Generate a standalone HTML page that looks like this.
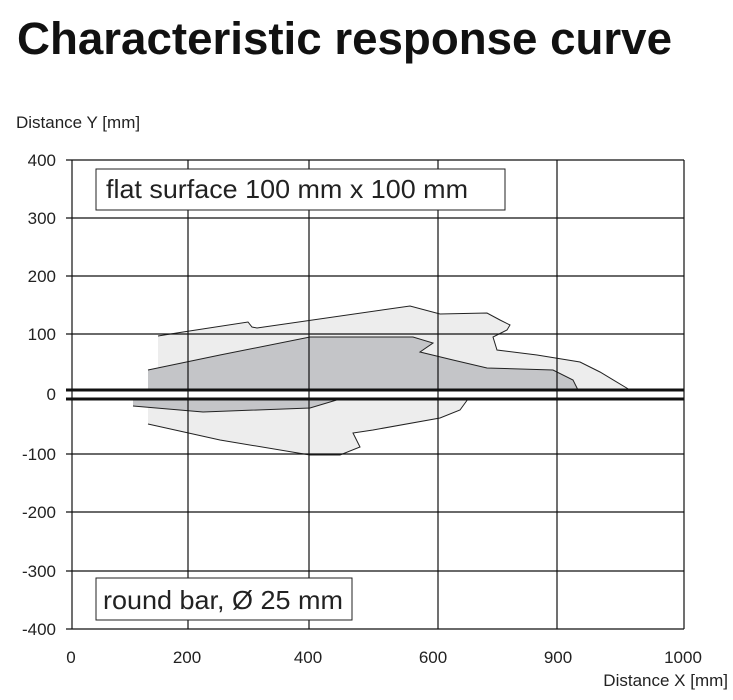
<!DOCTYPE html>
<html><head><style>
body{margin:0;background:#fff;}
</style></head><body>
<svg width="733" height="695" xmlns="http://www.w3.org/2000/svg" font-family="Liberation Sans, Arial, sans-serif">
<rect width="733" height="695" fill="#fff"/>
<text x="17" y="54" font-size="45" font-weight="bold" fill="#111" textLength="655" lengthAdjust="spacingAndGlyphs">Characteristic response curve</text>
<text x="16" y="128" font-size="17" fill="#222">Distance Y [mm]</text>
<path d="M158,336 L183,332 L248,322 L252,327 L257,328 L410,306 L440,314 L487,313 L500,320 L510,325 L507,330 L493,337 L497,350 L537,355 L580,362 L600,372 L630,390 L158,390 Z" fill="#ededed" stroke="none"/>
<path d="M158,336 L183,332 L248,322 L252,327 L257,328 L410,306 L440,314 L487,313 L500,320 L510,325 L507,330 L493,337 L497,350 L537,355 L580,362 L600,372 L630,390" fill="none" stroke="#222" stroke-width="1"/>
<path d="M148,370 L220,355 L310,337 L413,337 L433,343 L420,352 L453,360 L487,368 L553,370 L573,380 L578,390 L148,390 Z" fill="#c4c5c8"/>
<path d="M148,370 L220,355 L310,337 L413,337 L433,343 L420,352 L453,360 L487,368 L553,370 L573,380 L578,390" fill="none" stroke="#222" stroke-width="1"/>
<path d="M148,399 L468,399 L460,410 L440,418 L373,430 L353,433 L360,447 L340,455 L310,455 L220,440 L148,424 Z" fill="#ededed"/>
<path d="M468,399 L460,410 L440,418 L373,430 L353,433 L360,447 L340,455 L310,455 L220,440 L148,424" fill="none" stroke="#222" stroke-width="1"/>
<path d="M133,399 L340,399 L310,408 L203,412 L133,406 Z" fill="#c4c5c8"/>
<path d="M340,399 L310,408 L203,412 L133,406" fill="none" stroke="#222" stroke-width="1"/>
<g stroke="#111" stroke-width="1.2">
<line x1="72" y1="160" x2="72" y2="629"/>
<line x1="188" y1="160" x2="188" y2="629"/>
<line x1="309" y1="160" x2="309" y2="629"/>
<line x1="438" y1="160" x2="438" y2="629"/>
<line x1="557" y1="160" x2="557" y2="629"/>
<line x1="684" y1="160" x2="684" y2="629"/>
<line x1="66" y1="160" x2="684" y2="160"/>
<line x1="66" y1="218" x2="684" y2="218"/>
<line x1="66" y1="276" x2="684" y2="276"/>
<line x1="66" y1="334" x2="684" y2="334"/>
<line x1="66" y1="454" x2="684" y2="454"/>
<line x1="66" y1="512" x2="684" y2="512"/>
<line x1="66" y1="571" x2="684" y2="571"/>
<line x1="66" y1="629" x2="684" y2="629"/>
</g>
<line x1="66" y1="390" x2="684" y2="390" stroke="#111" stroke-width="3"/>
<line x1="66" y1="399" x2="684" y2="399" stroke="#111" stroke-width="3"/>
<g font-size="17" fill="#222" text-anchor="end">
<text x="56" y="166">400</text>
<text x="56" y="224">300</text>
<text x="56" y="282">200</text>
<text x="56" y="340">100</text>
<text x="56" y="400">0</text>
<text x="56" y="460">-100</text>
<text x="56" y="518">-200</text>
<text x="56" y="577">-300</text>
<text x="56" y="635">-400</text>
</g>
<g font-size="17" fill="#222" text-anchor="middle">
<text x="71" y="663">0</text>
<text x="187" y="663">200</text>
<text x="308" y="663">400</text>
<text x="433" y="663">600</text>
<text x="558" y="663">900</text>
<text x="683" y="663">1000</text>
</g>
<text x="728" y="686" font-size="17" fill="#222" text-anchor="end">Distance X [mm]</text>
<rect x="96" y="169" width="409" height="41" fill="#fff" stroke="#222" stroke-width="1"/>
<text x="106" y="198" font-size="26" fill="#222" textLength="362" lengthAdjust="spacingAndGlyphs">flat surface 100 mm x 100 mm</text>
<rect x="96" y="578" width="256" height="42" fill="#fff" stroke="#222" stroke-width="1"/>
<text x="103" y="609" font-size="26" fill="#222" textLength="240" lengthAdjust="spacingAndGlyphs">round bar, Ø 25 mm</text>
</svg>
</body></html>
